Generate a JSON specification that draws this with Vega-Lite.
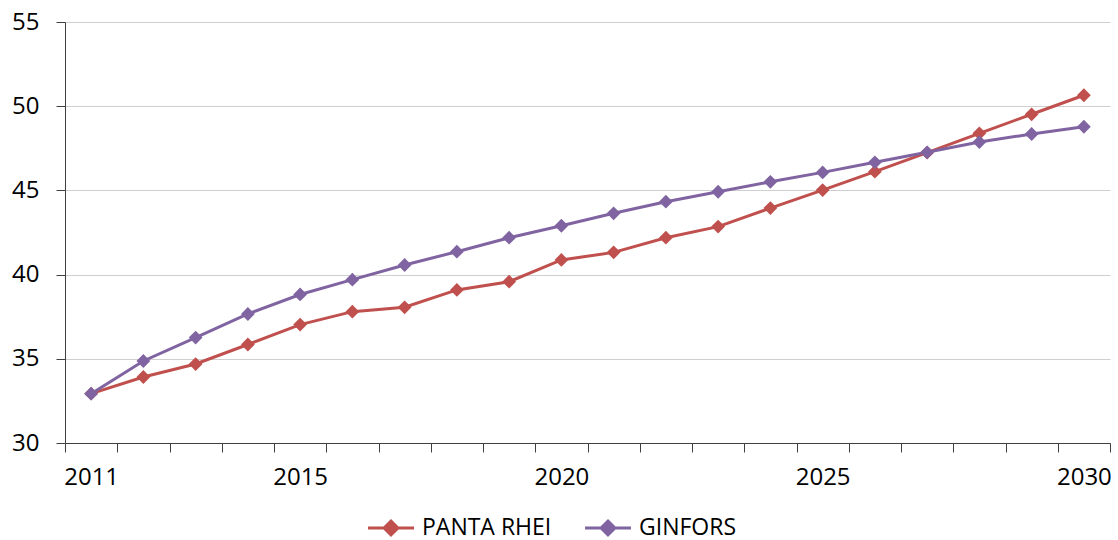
{
  "$schema": "https://vega.github.io/schema/vega-lite/v6.json",
  "width": 1045,
  "height": 421,
  "autosize": {"type": "none"},
  "padding": {"left": 65, "top": 22, "right": 8, "bottom": 97},
  "background": "white",
  "config": {
    "view": {"stroke": null},
    "font": "Open Sans"
  },
  "data": {
    "values": [
      {"year": 2011, "series": "PANTA RHEI", "value": 32.93},
      {"year": 2012, "series": "PANTA RHEI", "value": 33.92},
      {"year": 2013, "series": "PANTA RHEI", "value": 34.69},
      {"year": 2014, "series": "PANTA RHEI", "value": 35.85},
      {"year": 2015, "series": "PANTA RHEI", "value": 37.03},
      {"year": 2016, "series": "PANTA RHEI", "value": 37.8},
      {"year": 2017, "series": "PANTA RHEI", "value": 38.06},
      {"year": 2018, "series": "PANTA RHEI", "value": 39.09},
      {"year": 2019, "series": "PANTA RHEI", "value": 39.58},
      {"year": 2020, "series": "PANTA RHEI", "value": 40.87},
      {"year": 2021, "series": "PANTA RHEI", "value": 41.32},
      {"year": 2022, "series": "PANTA RHEI", "value": 42.19},
      {"year": 2023, "series": "PANTA RHEI", "value": 42.85},
      {"year": 2024, "series": "PANTA RHEI", "value": 43.95},
      {"year": 2025, "series": "PANTA RHEI", "value": 45.02},
      {"year": 2026, "series": "PANTA RHEI", "value": 46.11},
      {"year": 2027, "series": "PANTA RHEI", "value": 47.24},
      {"year": 2028, "series": "PANTA RHEI", "value": 48.39},
      {"year": 2029, "series": "PANTA RHEI", "value": 49.52},
      {"year": 2030, "series": "PANTA RHEI", "value": 50.65},
      {"year": 2011, "series": "GINFORS", "value": 32.93},
      {"year": 2012, "series": "GINFORS", "value": 34.87},
      {"year": 2013, "series": "GINFORS", "value": 36.26},
      {"year": 2014, "series": "GINFORS", "value": 37.66},
      {"year": 2015, "series": "GINFORS", "value": 38.82},
      {"year": 2016, "series": "GINFORS", "value": 39.7},
      {"year": 2017, "series": "GINFORS", "value": 40.57},
      {"year": 2018, "series": "GINFORS", "value": 41.36},
      {"year": 2019, "series": "GINFORS", "value": 42.19},
      {"year": 2020, "series": "GINFORS", "value": 42.9},
      {"year": 2021, "series": "GINFORS", "value": 43.64},
      {"year": 2022, "series": "GINFORS", "value": 44.33},
      {"year": 2023, "series": "GINFORS", "value": 44.92},
      {"year": 2024, "series": "GINFORS", "value": 45.51},
      {"year": 2025, "series": "GINFORS", "value": 46.07},
      {"year": 2026, "series": "GINFORS", "value": 46.67},
      {"year": 2027, "series": "GINFORS", "value": 47.26},
      {"year": 2028, "series": "GINFORS", "value": 47.87},
      {"year": 2029, "series": "GINFORS", "value": 48.35},
      {"year": 2030, "series": "GINFORS", "value": 48.78}
    ]
  },
  "encoding": {
    "x": {
      "field": "year",
      "type": "ordinal",
      "scale": {"type": "band", "paddingInner": 0, "paddingOuter": 0},
      "axis": {
        "title": null,
        "tickBand": "extent",
        "labelAngle": 0,
        "labelOverlap": false,
        "labelExpr": "indexof(['2011','2015','2020','2025','2030'], datum.label) >= 0 ? datum.label : ''",
        "labelFontSize": 24,
        "labelColor": "#000000",
        "labelPadding": 13,
        "tickSize": 9,
        "tickColor": "#404040",
        "domainColor": "#404040",
        "grid": false
      }
    },
    "y": {
      "field": "value",
      "type": "quantitative",
      "scale": {"domain": [30, 55], "nice": false, "zero": false},
      "axis": {
        "title": null,
        "values": [30, 35, 40, 45, 50, 55],
        "labelFontSize": 24,
        "labelColor": "#000000",
        "labelPadding": 17,
        "tickSize": 9,
        "tickColor": "#404040",
        "domainColor": "#404040",
        "gridColor": "#cfcfcf",
        "gridWidth": 1.2
      }
    },
    "color": {
      "field": "series",
      "type": "nominal",
      "scale": {"domain": ["PANTA RHEI", "GINFORS"], "range": ["#C0504D", "#8064A2"]},
      "legend": {
        "title": null,
        "orient": "none",
        "direction": "horizontal",
        "legendX": 313,
        "legendY": 493,
        "labelFontSize": 23,
        "labelColor": "#000000",
        "symbolType": "M-2,0L2,0M0,-0.6L0.6,0L0,0.6L-0.6,0Z",
        "symbolSize": 529,
        "symbolStrokeWidth": 3,
        "symbolOpacity": 1,
        "labelOffset": 18,
        "columnPadding": 27
      }
    }
  },
  "layer": [
    {"mark": {"type": "line", "strokeWidth": 3}},
    {"mark": {"type": "point", "shape": "diamond", "filled": true, "size": 190, "opacity": 1}}
  ]
}
